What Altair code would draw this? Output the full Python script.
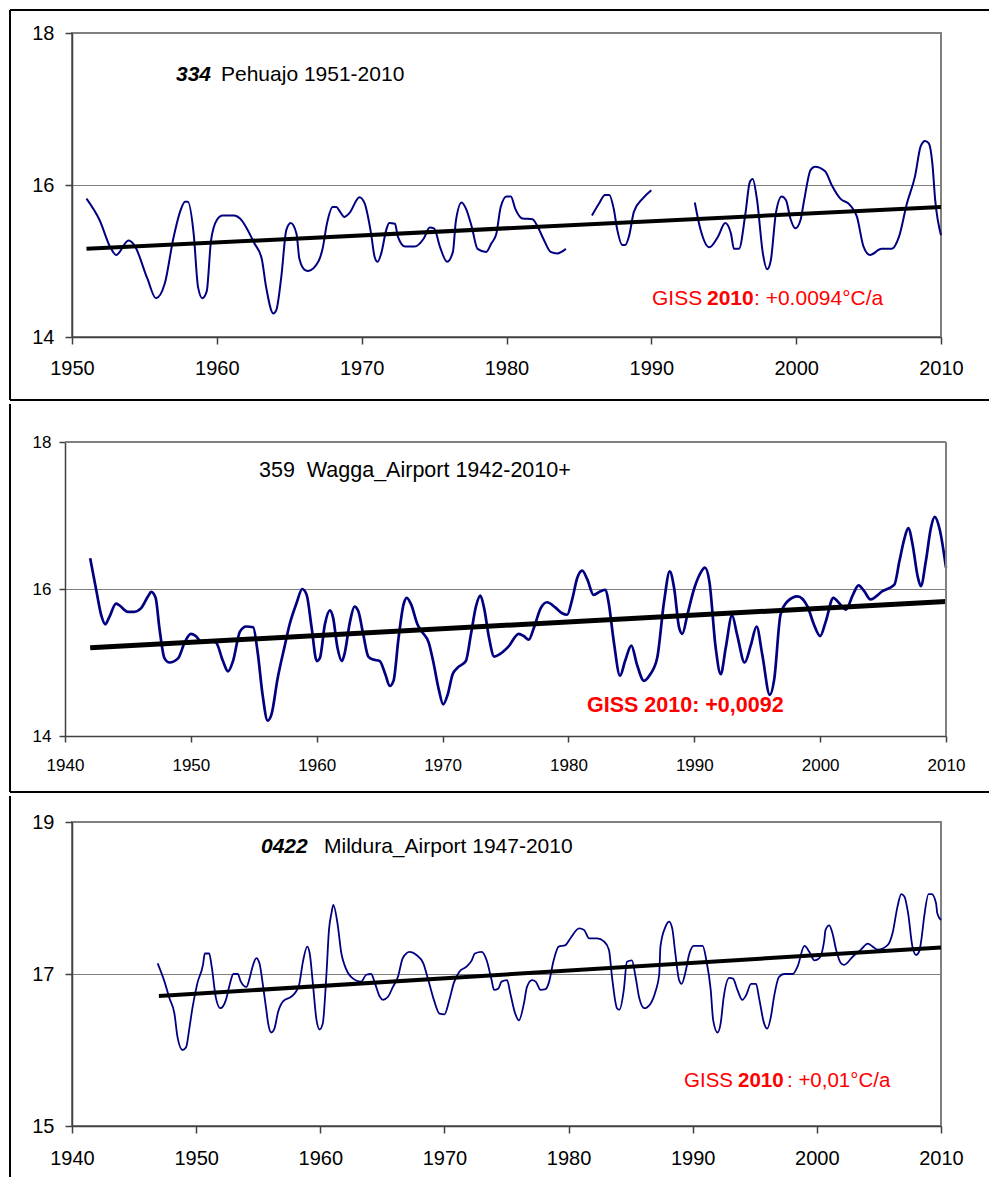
import altair as alt
import pandas as pd

FONT = "Liberation Sans"
NAVY = "#000080"
RED = "#ff0000"
FRAME = "#808080"

# ---------------- Panel 1: 334 Pehuajo ----------------
p1_year = [1951.0, 1951.9, 1952.7, 1953.05, 1953.9, 1954.3, 1955.2, 1955.8, 1956.4, 1957.0,
           1957.5, 1957.8, 1958.0, 1958.4, 1958.7, 1959.0, 1959.3, 1959.6, 1960.0, 1960.4,
           1961.2, 1961.6, 1962.6, 1963.1, 1963.4, 1963.9, 1964.1, 1964.45, 1964.8, 1965.1,
           1965.5, 1965.7, 1966.1, 1966.3, 1967.0, 1967.3, 1967.6, 1968.0, 1968.25, 1968.5,
           1968.8, 1969.15, 1969.85, 1970.2, 1970.65, 1970.9, 1971.1, 1971.35, 1971.7, 1971.9,
           1972.3, 1972.5, 1973.0, 1973.65, 1974.3, 1974.7, 1975.0, 1975.4, 1975.9, 1976.3,
           1976.5, 1976.9, 1977.2, 1977.6, 1978.0, 1978.6, 1978.95, 1979.3, 1979.6, 1980.0,
           1980.3, 1980.6, 1981.1, 1981.8, 1982.1, 1982.6, 1983.05, 1983.5, 1984.1, 1985.0,
           1985.9, 1986.4, 1986.8, 1987.1, 1987.4, 1987.65, 1988.0, 1988.2, 1988.45, 1988.8,
           1989.4, 1990.0, 1991.5,
           1993.0, 1993.4, 1994.0, 1994.6, 1995.1, 1995.5, 1995.7, 1996.05, 1996.5, 1996.8,
           1997.0, 1997.3, 1997.7, 1998.0, 1998.25, 1998.6, 1999.0, 1999.3, 1999.6, 1999.95,
           2000.3, 2000.55, 2001.0, 2001.3, 2002.0, 2002.45, 2003.05, 2003.7, 2004.2, 2004.65,
           2005.1, 2005.9, 2006.6, 2007.1, 2007.65, 2008.2, 2008.6, 2008.9, 2009.15, 2009.4,
           2009.6, 2010.0]
p1_temp = [15.82, 15.54, 15.16, 15.08, 15.27, 15.21, 14.77, 14.51, 14.70, 15.30,
           15.67, 15.78, 15.78, 15.36, 14.66, 14.51, 14.60, 15.27, 15.54, 15.60,
           15.60, 15.56, 15.23, 15.03, 14.66, 14.31, 14.35, 14.79, 15.41, 15.50,
           15.36, 15.03, 14.88, 14.87, 14.99, 15.16, 15.49, 15.71, 15.71, 15.65,
           15.58, 15.63, 15.84, 15.76, 15.36, 15.05, 14.99, 15.10, 15.41, 15.50,
           15.49, 15.32, 15.19, 15.19, 15.30, 15.44, 15.43, 15.19, 14.99, 15.12,
           15.52, 15.77, 15.69, 15.45, 15.16, 15.12, 15.23, 15.36, 15.71, 15.85,
           15.85, 15.69, 15.56, 15.55, 15.47, 15.27, 15.12, 15.10, 15.16, None,
           15.60, 15.76, 15.87, 15.87, 15.69, 15.41, 15.21, 15.21, 15.32, 15.65,
           15.82, 15.93, None,
           15.77, 15.41, 15.18, 15.32, 15.50, 15.36, 15.16, 15.16, 15.63, 16.04,
           16.08, 15.80, 15.10, 14.89, 15.01, 15.63, 15.85, 15.80, 15.56, 15.43,
           15.54, 15.80, 16.20, 16.24, 16.18, 16.00, 15.82, 15.74, 15.58, 15.19,
           15.08, 15.16, 15.16, 15.32, 15.76, 16.11, 16.51, 16.58, 16.55, 16.29,
           15.80, 15.34]
p1_trend_year = [1951, 2010]
p1_trend_temp = [15.16, 15.71]

# ---------------- Panel 2: 359 Wagga_Airport ----------------
p2_year = [1942.0, 1942.5, 1942.9, 1943.2, 1943.5, 1944.06, 1944.3, 1945.0, 1945.5, 1946.05,
           1946.6, 1946.85, 1947.2, 1947.5, 1947.9, 1948.3, 1949.0, 1949.5, 1950.0, 1950.4,
           1950.8, 1951.35, 1952.0, 1952.55, 1952.95, 1953.35, 1953.9, 1954.4, 1954.95, 1955.3,
           1955.7, 1956.1, 1956.4, 1956.9, 1957.45, 1957.85, 1958.4, 1958.85, 1959.2, 1959.6,
           1960.0, 1960.25, 1960.65, 1961.05, 1961.3, 1961.65, 1962.0, 1962.2, 1962.65, 1963.0,
           1963.3, 1963.7, 1964.1, 1964.5, 1965.0, 1965.45, 1965.8, 1966.1, 1966.5, 1966.9,
           1967.15, 1967.5, 1968.0, 1968.35, 1968.9, 1969.25, 1969.7, 1970.05, 1970.4, 1970.8,
           1971.2, 1971.85, 1972.25, 1972.65, 1973.0, 1973.3, 1973.7, 1974.1, 1974.6, 1975.25,
           1976.05, 1976.45, 1976.85, 1977.25, 1977.8, 1978.3, 1978.95, 1979.5, 1979.9, 1980.3,
           1980.7, 1981.1, 1981.5, 1982.0, 1982.55, 1982.95, 1983.2, 1983.6, 1984.1, 1984.5,
           1985.0, 1985.45, 1986.0, 1986.5, 1987.05, 1987.6, 1988.05, 1988.4, 1988.8, 1989.05,
           1989.45, 1990.0, 1990.5, 1990.85, 1991.2, 1991.7, 1992.1, 1992.5, 1993.0, 1993.4,
           1994.0, 1994.5, 1994.95, 1995.4, 1996.0, 1996.35, 1996.85, 1997.4, 1998.2, 1999.0,
           1999.5, 2000.0, 2000.45, 2001.05, 2001.5, 2002.05, 2002.6, 2003.05, 2003.5, 2004.0,
           2004.95, 2005.9, 2006.3, 2006.7, 2007.0, 2007.35, 2007.75, 2008.0, 2008.4, 2008.8,
           2009.1, 2009.5, 2010.0]
p2_temp = [16.42, 15.97, 15.63, 15.52, 15.61, 15.80, 15.78, 15.69, 15.69, 15.74,
           15.90, 15.96, 15.88, 15.47, 15.06, 15.00, 15.06, 15.27, 15.39, 15.36,
           15.29, 15.30, 15.27, 15.02, 14.88, 15.02, 15.42, 15.49, 15.48, 15.15,
           14.56, 14.21, 14.29, 14.79, 15.22, 15.52, 15.81, 16.00, 15.92, 15.47,
           15.02, 15.06, 15.52, 15.71, 15.61, 15.20, 15.02, 15.11, 15.56, 15.76,
           15.70, 15.38, 15.08, 15.04, 15.02, 14.84, 14.68, 14.75, 15.33, 15.79,
           15.88, 15.79, 15.52, 15.42, 15.27, 15.02, 14.63, 14.43, 14.56, 14.84,
           14.93, 15.02, 15.38, 15.76, 15.91, 15.74, 15.33, 15.08, 15.12, 15.22,
           15.39, 15.36, 15.31, 15.47, 15.74, 15.82, 15.75, 15.67, 15.65, 15.86,
           16.15, 16.25, 16.13, 15.92, 15.97, 15.99, 15.81, 15.29, 14.82, 15.02,
           15.23, 14.97, 14.75, 14.84, 15.06, 15.83, 16.24, 16.01, 15.47, 15.39,
           15.65, 16.01, 16.22, 16.29, 16.10, 15.20, 14.84, 15.20, 15.64, 15.38,
           15.00, 15.24, 15.49, 15.11, 14.56, 14.77, 15.65, 15.83, 15.90, 15.76,
           15.52, 15.36, 15.56, 15.88, 15.81, 15.72, 15.92, 16.05, 15.97, 15.86,
           15.97, 16.06, 16.38, 16.69, 16.83, 16.60, 16.17, 16.04, 16.38, 16.83,
           16.98, 16.81, 16.29]
p2_trend_year = [1942, 2010]
p2_trend_temp = [15.20, 15.83]

# ---------------- Panel 3: 0422 Mildura_Airport ----------------
p3_year = [1946.9, 1947.45, 1947.85, 1948.25, 1948.5, 1948.9, 1949.2, 1949.45, 1949.7, 1950.1,
           1950.55, 1950.7, 1951.05, 1951.25, 1951.6, 1951.95, 1952.4, 1952.7, 1953.0, 1953.35,
           1953.6, 1954.05, 1954.3, 1954.55, 1954.85, 1955.1, 1955.4, 1955.65, 1955.8, 1956.05,
           1956.3, 1956.6, 1957.0, 1957.65, 1958.05, 1958.3, 1958.6, 1958.95, 1959.15, 1959.4,
           1959.7, 1959.95, 1960.2, 1960.5, 1960.7, 1960.9, 1961.05, 1961.4, 1961.7, 1961.95,
           1962.5, 1963.3, 1963.7, 1964.1, 1964.4, 1964.8, 1965.05, 1965.45, 1965.85, 1966.25,
           1966.65, 1967.2, 1967.75, 1968.3, 1968.7, 1969.15, 1969.6, 1970.0, 1970.4, 1970.75,
           1971.2, 1971.8, 1972.2, 1972.45, 1973.0, 1973.4, 1973.8, 1974.0, 1974.35, 1974.6,
           1975.05, 1975.3, 1975.7, 1976.0, 1976.4, 1976.65, 1977.05, 1977.35, 1977.75, 1978.15,
           1978.4, 1978.8, 1979.2, 1979.75, 1980.15, 1980.85, 1981.25, 1981.65, 1982.3, 1982.85,
           1983.25, 1983.5, 1983.9, 1984.1, 1984.45, 1984.7, 1985.1, 1985.4, 1985.7, 1986.1,
           1986.6, 1987.0, 1987.3, 1987.4, 1987.8, 1988.1, 1988.35, 1988.6, 1988.9, 1989.1,
           1989.45, 1989.7, 1990.1, 1990.8, 1991.1, 1991.45, 1991.65, 1992.0, 1992.25, 1992.5,
           1992.95, 1993.25, 1993.6, 1994.0, 1994.3, 1994.7, 1995.1, 1995.35, 1995.75, 1996.0,
           1996.3, 1996.55, 1996.95, 1997.35, 1998.05, 1998.45, 1999.0, 1999.4, 1999.8, 2000.2,
           2000.6, 2000.7, 2001.0, 2001.25, 2001.55, 2001.95, 2002.2, 2002.9, 2003.55, 2004.1,
           2004.5, 2004.9, 2005.7, 2006.1, 2006.5, 2006.8, 2007.05, 2007.35, 2007.7, 2008.0,
           2008.25, 2008.45, 2008.65, 2009.0, 2009.25, 2009.6, 2009.7, 2010.0]
p3_temp = [17.14, 16.90, 16.68, 16.48, 16.17, 16.00, 16.04, 16.28, 16.55, 16.88,
           17.12, 17.27, 17.27, 17.10, 16.68, 16.55, 16.66, 16.86, 17.00, 17.00,
           16.90, 16.83, 16.94, 17.10, 17.21, 17.14, 16.83, 16.53, 16.35, 16.23,
           16.28, 16.50, 16.64, 16.70, 16.77, 16.86, 17.16, 17.36, 17.27, 16.88,
           16.39, 16.27, 16.35, 17.01, 17.58, 17.80, 17.91, 17.65, 17.27, 17.12,
           16.96, 16.90, 16.99, 17.00, 16.88, 16.70, 16.66, 16.70, 16.83, 16.96,
           17.21, 17.29, 17.25, 17.14, 16.92, 16.66, 16.48, 16.47, 16.66, 16.88,
           17.03, 17.10, 17.18, 17.27, 17.29, 17.18, 16.92, 16.79, 16.81, 16.90,
           16.92, 16.75, 16.48, 16.39, 16.61, 16.83, 16.92, 16.90, 16.79, 16.80,
           16.88, 17.18, 17.36, 17.38, 17.47, 17.60, 17.58, 17.47, 17.47, 17.43,
           17.32, 16.96, 16.55, 16.53, 16.79, 17.16, 17.18, 16.96, 16.68, 16.55,
           16.61, 16.77, 16.99, 17.36, 17.62, 17.69, 17.60, 17.27, 16.92, 16.87,
           17.05, 17.25, 17.37, 17.37, 17.18, 16.79, 16.39, 16.23, 16.35, 16.70,
           16.95, 16.94, 16.79, 16.66, 16.72, 16.87, 16.87, 16.68, 16.35, 16.28,
           16.44, 16.70, 16.96, 17.00, 17.00, 17.10, 17.37, 17.29, 17.18, 17.21,
           17.45, 17.58, 17.64, 17.54, 17.32, 17.14, 17.12, 17.23, 17.32, 17.40,
           17.36, 17.32, 17.38, 17.54, 17.89, 18.05, 18.02, 17.80, 17.36, 17.25,
           17.30, 17.49, 17.76, 18.05, 18.05, 17.93, 17.80, 17.71]
p3_trend_year = [1947, 2010]
p3_trend_temp = [16.71, 17.35]


def series_df(years, temps):
    rows, seg = [], 0
    for y, t in zip(years, temps):
        if t is None:
            seg += 1
            continue
        rows.append({"year": y, "temp": t, "seg": seg})
    return pd.DataFrame(rows)


def one():
    return pd.DataFrame({"k": [0]})


def txt(s, x, y, size, color="black", weight="normal", style="normal"):
    return alt.Chart(one()).mark_text(
        text=s, align="left", baseline="alphabetic", font=FONT, fontSize=size,
        color=color, fontWeight=weight, fontStyle=style
    ).encode(x=alt.value(x), y=alt.value(y))


def hrule(x1, x2, y, color="black"):
    return alt.Chart(one()).mark_rule(color=color, strokeWidth=2).encode(
        x=alt.value(x1), x2=alt.value(x2), y=alt.value(y))


def vrule(x, y1, y2, color="black"):
    return alt.Chart(one()).mark_rule(color=color, strokeWidth=2).encode(
        x=alt.value(x), y=alt.value(y1), y2=alt.value(y2))


def panel(years, temps, tyears, ttemps, xdom, ydom, xticks, yticks, w, h,
          lw, tw, lsize, tick, xpad, ypad, extras, shift=0):
    df = series_df(years, temps)
    tdf = pd.DataFrame({"year": tyears, "temp": ttemps})
    xscale = alt.Scale(domain=xdom, nice=False, zero=False)
    if shift:
        xscale = alt.Scale(domain=xdom, nice=False, zero=False, range=[-shift, w])
    X = alt.X("year:Q", scale=xscale,
              axis=alt.Axis(values=xticks, format="d", title=None, grid=False,
                            labelFlush=False, labelOverlap=False, tickSize=tick,
                            labelPadding=xpad, labelFontSize=lsize, labelFont=FONT,
                            labelColor="black", domainColor="#404040", tickColor="#404040",
                            domainWidth=1.5, tickWidth=1.5))
    Y = alt.Y("temp:Q", scale=alt.Scale(domain=ydom, nice=False, zero=False),
              axis=alt.Axis(values=yticks, title=None, grid=True, gridColor=FRAME,
                            gridWidth=1, labelFlush=False, labelOverlap=False, tickSize=tick,
                            labelPadding=ypad, labelFontSize=lsize, labelFont=FONT,
                            labelColor="black", domainColor="#404040", tickColor="#404040",
                            domainWidth=1.5, tickWidth=1.5, offset=shift))
    line = alt.Chart(df).mark_line(color=NAVY, strokeWidth=lw, interpolate="monotone").encode(
        x=X, y=Y, detail="seg:N")
    trend = alt.Chart(tdf).mark_line(color="black", strokeWidth=tw).encode(x=X, y=Y)
    layers = alt.layer(line, trend, *extras).properties(width=w, height=h)
    if shift:
        layers = layers.properties(view=alt.ViewBackground(stroke="transparent"))
    else:
        layers = layers.properties(view=alt.ViewBackground(stroke=FRAME, strokeWidth=2))
    return layers


p1 = panel(p1_year, p1_temp, p1_trend_year, p1_trend_temp, [1950, 2010], [14, 18],
           [1950, 1960, 1970, 1980, 1990, 2000, 2010], [14, 16, 18], 869, 304,
           2, 4, 20, 7, 14, 11,
           [hrule(-62, 917, -23), vrule(-62, -23, 367), hrule(-62, 917, 367),
            txt("334", 104, 48, 21, weight="bold", style="italic"),
            txt("Pehuajo 1951-2010", 149, 48, 21),
            txt("GISS", 580, 272, 21, color=RED),
            txt("2010", 635, 272, 21, color=RED, weight="bold"),
            txt(": +0.0094°C/a", 682, 272, 21, color=RED)])

# panel 2's plot area starts 7px further left than the other two
p2 = panel(p2_year, p2_temp, p2_trend_year, p2_trend_temp, [1940, 2010], [14, 18],
           [1940, 1950, 1960, 1970, 1980, 1990, 2000, 2010], [14, 16, 18], 874, 294,
           2.7, 5, 17, 6, 15, 8,
           [hrule(-7, 874, 0, FRAME), vrule(874, 0, 294, FRAME),
            vrule(-62, -38, 350), hrule(-62, 917, 350),
            txt("359\u00a0\u00a0Wagga_Airport 1942-2010+", 187, 35, 21.5),
            txt("GISS 2010: +0,0092", 515, 270, 21.5, color=RED, weight="bold")],
           shift=7)

p3 = panel(p3_year, p3_temp, p3_trend_year, p3_trend_temp, [1940, 2010], [15, 19],
           [1940, 1950, 1960, 1970, 1980, 1990, 2000, 2010], [15, 17, 19], 869, 304,
           1.8, 4, 20, 7, 15, 11,
           [vrule(-62, -26, 355),
            txt("0422", 189, 31, 21, weight="bold", style="italic"),
            txt("Mildura_Airport 1947-2010", 252, 31, 21),
            txt("GISS", 612, 265, 20.5, color=RED),
            txt("2010", 666, 265, 20.5, color=RED, weight="bold"),
            txt(": +0,01°C/a", 715, 265, 20.5, color=RED)])

chart = alt.vconcat(p1, p2, p3, spacing=0).properties(padding=0).configure(background="white")

chart.save("out.html", embed_options={"renderer": "svg", "actions": False})
